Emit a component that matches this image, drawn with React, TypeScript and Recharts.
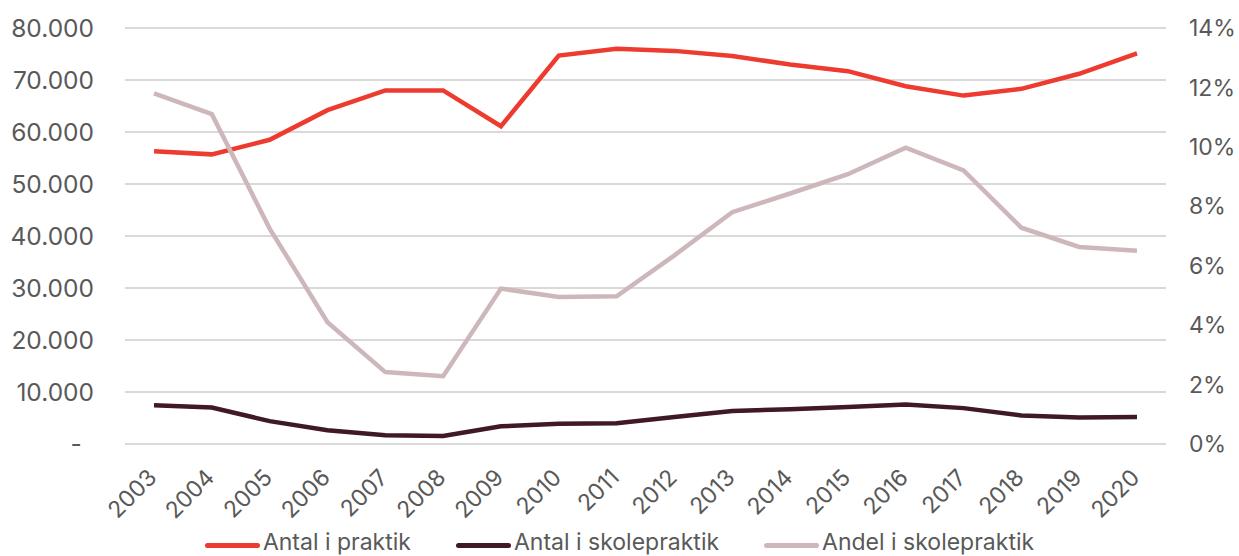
import { LineChart, Line, XAxis, YAxis, CartesianGrid, Legend } from 'recharts'

const YEARS = [
  '2003', '2004', '2005', '2006', '2007', '2008', '2009', '2010', '2011',
  '2012', '2013', '2014', '2015', '2016', '2017', '2018', '2019', '2020',
]
const ANTAL_PRAKTIK = [
  56300, 55700, 58500, 64200, 68000, 68000, 61100, 74700, 76000,
  75600, 74600, 73000, 71700, 68800, 67000, 68300, 71200, 75100,
]
const ANTAL_SKOLEPRAKTIK = [
  7450, 7000, 4400, 2650, 1700, 1550, 3400, 3900, 4000,
  5200, 6350, 6700, 7100, 7600, 6900, 5500, 5100, 5200,
]
// procent
const ANDEL_SKOLEPRAKTIK = [
  11.8, 11.1, 7.25, 4.1, 2.42, 2.28, 5.23, 4.95, 4.97,
  6.35, 7.8, 8.43, 9.08, 9.97, 9.21, 7.28, 6.63, 6.5,
]
const LEFT_TICKS = [0, 10000, 20000, 30000, 40000, 50000, 60000, 70000, 80000]
const RIGHT_TICKS = [0, 2, 4, 6, 8, 10, 12, 14]

const SERIES = [
  { key: 'praktik', name: 'Antal i praktik', color: '#EE3B2F', axis: 'left' },
  { key: 'skolepraktik', name: 'Antal i skolepraktik', color: '#3F1923', axis: 'left' },
  { key: 'andel', name: 'Andel i skolepraktik', color: '#CDB7BA', axis: 'right' },
]

const FONT = 'Inter, "Noto Sans", sans-serif'
const TEXT = '#595959'
const FS = 23

const data = YEARS.map((year, i) => ({
  year,
  praktik: ANTAL_PRAKTIK[i],
  skolepraktik: ANTAL_SKOLEPRAKTIK[i],
  andel: ANDEL_SKOLEPRAKTIK[i],
}))

// Excel-agtigt regnskabsformat: 0 vises som "-"
function formatThousands(v: number) {
  if (v === 0) return '-\u2002'
  return v.toString().replace(/\B(?=(\d{3})+(?!\d))/g, '.')
}

function YearTick({ x, y, payload }: any) {
  return (
    <g transform={`translate(${x + 4},${y + 35})`}>
      <text textAnchor="end" transform="rotate(-45)" fill={TEXT} fontSize={FS} fontFamily={FONT}>
        {payload.value}
      </text>
    </g>
  )
}

// fast rækkefølge som i originalen
function LegendContent() {
  return (
    <div
      style={{
        display: 'flex',
        justifyContent: 'center',
        gap: 45,
        fontFamily: FONT,
        fontSize: FS,
        lineHeight: `${FS}px`,
        color: TEXT,
      }}
    >
      {SERIES.map((s) => (
        <div key={s.key} style={{ display: 'flex', alignItems: 'center' }}>
          <span style={{ width: 55, height: 5, background: s.color, borderRadius: 3, marginRight: 3, marginTop: 5 }} />
          <span>{s.name}</span>
        </div>
      ))}
    </div>
  )
}

export default function App() {
  return (
    <div style={{ position: 'absolute', left: 0, top: 0, width: 1239, height: 556, background: '#fff', overflow: 'hidden' }}>
      <LineChart width={1239} height={556} data={data} margin={{ top: 28, right: 0, left: 0, bottom: 0 }}>
        <CartesianGrid vertical={false} yAxisId="left" stroke="#D9D9D9" strokeWidth={2} />
        <XAxis
          dataKey="year"
          axisLine={false}
          tickLine={false}
          tickSize={0}
          tickMargin={0}
          height={112}
          interval={0}
          padding={{ left: 29, right: 29 }}
          tick={<YearTick />}
        />
        <YAxis
          yAxisId="left"
          domain={[0, 80000]}
          ticks={LEFT_TICKS}
          tickFormatter={formatThousands}
          axisLine={false}
          tickLine={false}
          tickSize={0}
          tickMargin={31}
          width={125}
          tick={{ fill: TEXT, fontSize: 24.5, fontFamily: FONT }}
        />
        <YAxis
          yAxisId="right"
          orientation="right"
          domain={[0, 14]}
          ticks={RIGHT_TICKS}
          tickFormatter={(v) => `${v}%`}
          axisLine={false}
          tickLine={false}
          tickSize={0}
          tickMargin={23}
          width={73}
          tick={{ fill: TEXT, fontSize: FS, fontFamily: FONT, textAnchor: 'start' }}
        />
        <Legend
          layout="horizontal"
          verticalAlign="middle"
          content={<LegendContent />}
          wrapperStyle={{ top: 531, left: 0, width: 1239 }}
        />
        {SERIES.map((s) => (
          <Line
            key={s.key}
            yAxisId={s.axis}
            dataKey={s.key}
            name={s.name}
            stroke={s.color}
            strokeWidth={4.5}
            dot={false}
            isAnimationActive={false}
          />
        ))}
      </LineChart>
    </div>
  )
}
